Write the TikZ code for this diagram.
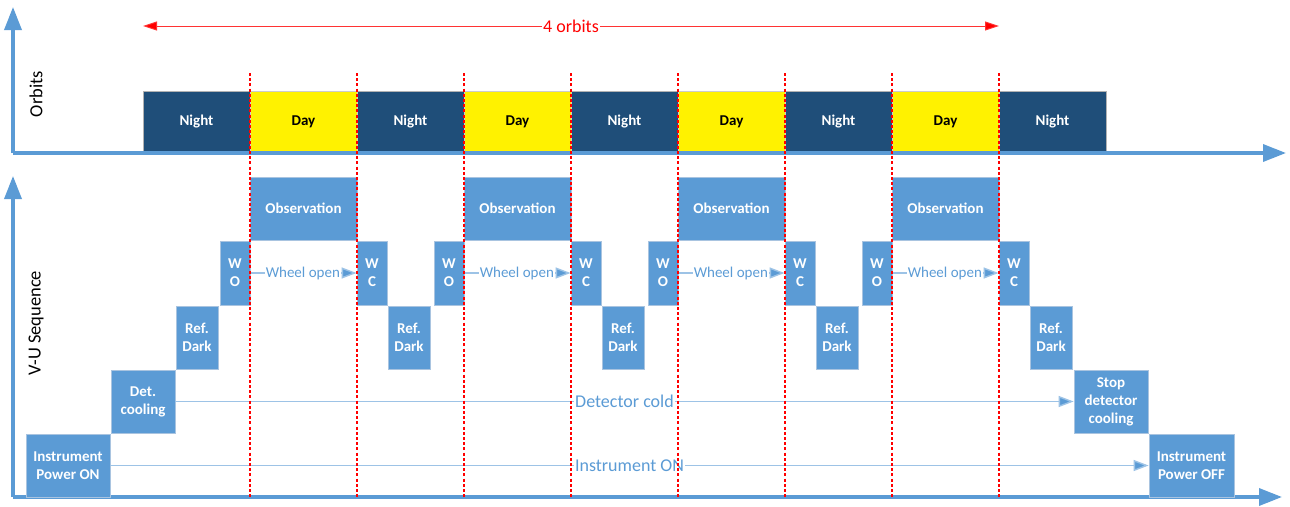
\documentclass[tikz,border=0pt]{standalone}
\usepackage{fontspec}
\setmainfont{Carlito}
\usetikzlibrary{arrows.meta}
\definecolor{obox}{HTML}{5B9BD5}
\definecolor{obord}{HTML}{A9C4E0}
\definecolor{night}{HTML}{1F4E79}
\definecolor{lline}{HTML}{9DC3E6}
\begin{document}
\begin{tikzpicture}[x=1pt,y=-1pt,
  box/.style={draw=obord,line width=0.8pt,fill=obox,text=white,inner sep=0pt,align=center,
    font=\fontsize{15}{18}\selectfont\bfseries},
  nightbox/.style={draw=gray!60,line width=0.8pt,fill=night,text=white,inner sep=0pt,
    minimum width=107,minimum height=61,font=\fontsize{15}{18}\selectfont\bfseries},
  daybox/.style={draw=gray!40,line width=0.8pt,fill=yellow,text=black,inner sep=0pt,
    minimum width=107,minimum height=61,font=\fontsize{15}{18}\selectfont\bfseries},
  axis/.style={obox,line width=3.5pt,-{Triangle[length=23pt,width=17pt]}},
  seqline/.style={lline,line width=1.4pt,-{Triangle[length=15pt,width=11pt,fill=obox]}},
  plainline/.style={lline,line width=1.4pt},
  seqlabel/.style={fill=white,inner sep=1pt,text=obox,font=\fontsize{18}{20}\selectfont},
  wlabel/.style={inner sep=1pt,text=obox,font=\fontsize{15}{17}\selectfont},
  redline/.style={red,line width=1.6pt,dash pattern=on 3pt off 2.2pt},
  axlabel/.style={rotate=90,font=\fontsize{18.5}{20}\selectfont}
]
\useasboundingbox (0,0) rectangle (1290,506);
% axes
\coordinate (o1) at (13,153);
\coordinate (t1) at (13,7);
\coordinate (r1) at (1286,153);
\coordinate (o2) at (13,497);
\coordinate (t2) at (13,176);
\coordinate (r2) at (1282,497);
% orbit blocks
\foreach \i in {0,2,4,6,8}{
  \node[nightbox] (orb\i) at ({196.5+107*\i},121.5) {Night};
}
\foreach \i in {1,3,5,7}{
  \node[daybox] (orb\i) at ({196.5+107*\i},121.5) {Day};
}
\draw[axis] (o1) -- (t1);
\draw[axis] (o1) -- (r1);
\draw[axis] (o2) -- (t2);
\draw[axis] (o2) -- (r2);
\node[axlabel] (lorb) at (36,94) {Orbits};
\node[axlabel] (lseq) at (36,323) {V-U Sequence};
% red span arrow
\coordinate (ra) at (143,26);
\coordinate (rb) at (999,26);
\draw[red!80,line width=1pt,{Triangle[length=14pt,width=9pt,fill=red]}-{Triangle[length=14pt,width=9pt,fill=red]}] (ra) -- (rb)
  node[midway,fill=white,inner sep=1pt,text=red,font=\fontsize{18}{20}\selectfont] (fo) {4 orbits};
% sequence boxes
\node[box,minimum width=84,minimum height=63] (ipon) at (68,465.5) {Instrument\\Power ON};
\node[box,minimum width=64,minimum height=63] (det) at (143,401.5) {Det.\\cooling};
\node[box,minimum width=42,minimum height=63] (rd0) at (197,337.5) {Ref.\\Dark};
\foreach \k [evaluate=\k as \j using int(\k+1)] in {0,1,2,3}{
  \node[box,minimum width=30,minimum height=64] (wo\k) at ({235+214*\k},273) {W\\O};
  \node[box,minimum width=107,minimum height=63] (obs\k) at ({303.5+214*\k},208.5) {Observation};
  \node[box,minimum width=30,minimum height=64] (wc\k) at ({372+214*\k},273) {W\\C};
  \node[box,minimum width=42,minimum height=63] (rd\j) at ({409+214*\k},337.5) {Ref.\\Dark};
  \node[wlabel,anchor=east] (wl\k) at ([xshift=-15.5pt]wc\k.west) {Wheel open};
  \draw[plainline] (wo\k.east) -- (wl\k.west);
  \draw[seqline] (wl\k.east) -- (wc\k.west);
}
\node[box,minimum width=74,minimum height=63] (stop) at (1111,401.5) {Stop\\detector\\cooling};
\node[box,minimum width=85,minimum height=63] (ipoff) at (1191.5,465.5) {Instrument\\Power OFF};
\draw[seqline] (det.east) -- (stop.west) node[pos=0.5,seqlabel] (dc) {Detector cold};
\draw[seqline] (ipon.east) -- (ipoff.west) node[pos=0.5,seqlabel] (ion) {Instrument ON};
% red dashed dividers
\foreach \i in {0,...,7}{
  \draw[redline] ({250+107*\i},73) -- ({250+107*\i},497);
}
\end{tikzpicture}
\end{document}
